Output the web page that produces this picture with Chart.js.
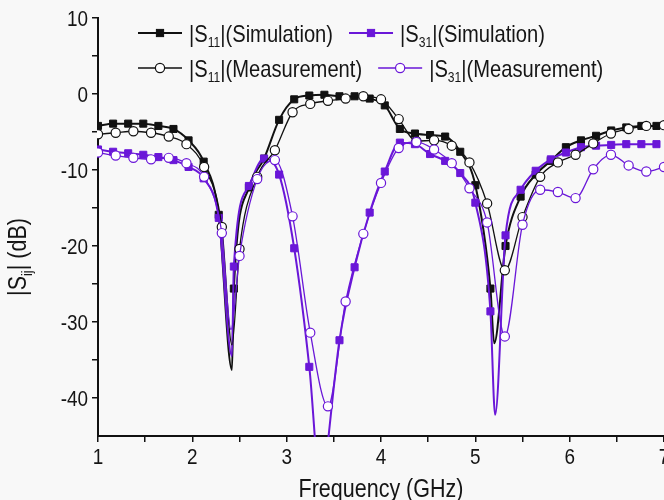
<!DOCTYPE html>
<html><head><meta charset="utf-8">
<script src="https://cdn.jsdelivr.net/npm/chart.js@4/dist/chart.umd.min.js"></script>
<style>html,body{margin:0;padding:0;background:#f8f8f8;overflow:hidden}</style>
</head><body>
<canvas id="c" width="664" height="500"></canvas>
<script>
// ---------- data ----------
const simFreq = [1.00,1.16,1.32,1.48,1.64,1.80,1.96,2.12,2.28,2.44,2.60,2.76,2.92,3.08,3.24,3.40,3.56,3.72,3.88,4.04,4.20,4.36,4.52,4.68,4.84,5.00,5.16,5.32,5.48,5.64,5.80,5.96,6.12,6.28,6.44,6.60,6.76,6.92];
const s11Sim = [-4.2,-3.9,-3.9,-3.9,-4.2,-4.6,-6.1,-8.9,-15.9,-25.6,-12.3,-8.5,-3.4,-0.7,-0.2,-0.1,-0.3,-0.3,-0.6,-1.5,-4.6,-5.2,-5.4,-5.6,-7.6,-12.0,-25.6,-20.0,-13.5,-10.6,-8.8,-7.0,-6.1,-5.5,-4.8,-4.4,-4.2,-4.2];
const s31Sim = [-7.3,-7.6,-7.8,-8.0,-8.3,-8.7,-9.6,-11.1,-16.3,-22.7,-12.1,-8.5,-10.6,-20.3,-35.9,-50.0,-32.4,-22.8,-15.6,-10.2,-6.4,-6.6,-7.9,-8.8,-10.4,-14.3,-28.6,-18.6,-12.6,-10.1,-8.6,-7.7,-7.0,-6.8,-6.7,-6.6,-6.6,-6.6];
const measFreq = [1.0,1.1875,1.375,1.5625,1.75,1.9375,2.125,2.3125,2.5,2.6875,2.875,3.0625,3.25,3.4375,3.625,3.8125,4.0,4.1875,4.375,4.5625,4.75,4.9375,5.125,5.3125,5.5,5.6875,5.875,6.0625,6.25,6.4375,6.625,6.8125,7.0];
const s11Meas = [-5.3,-5.1,-4.9,-5.1,-5.6,-6.6,-9.6,-17.5,-20.4,-10.9,-7.4,-2.4,-1.3,-0.9,-0.6,-0.3,-0.7,-3.3,-6.2,-6.1,-6.8,-9.0,-14.4,-23.2,-16.2,-10.9,-9.0,-8.0,-6.5,-5.2,-4.6,-4.2,-4.1];
const s31Meas = [-7.7,-8.1,-8.4,-8.6,-8.4,-9.1,-10.9,-18.3,-21.3,-11.2,-8.7,-16.1,-31.4,-41.1,-27.3,-18.4,-11.7,-7.1,-6.3,-7.3,-9.1,-12.4,-16.9,-31.9,-17.2,-12.6,-12.9,-13.7,-9.9,-8.0,-9.4,-10.2,-9.6];
// resonance minima drawn by the curves (no symbol there)
const s11SimDipFreq = [2.42, 5.20];
const s11SimDipVal  = [-36.3, -32.8];
const s31SimDipFreq = [2.42, 3.37, 5.21];
const s31SimDipVal  = [-34.5, -53.0, -42.2];
const s11MeasDipFreq = [2.42];
const s11MeasDipVal  = [-33.0];
const s31MeasDipFreq = [2.41];
const s31MeasDipVal  = [-31.0];
// ticks / labels
const xTickValues = [1,2,3,4,5,6,7];
const yTickValues = [10,0,-10,-20,-30,-40];
const seriesSub  = ['11','31','11','31'];
const seriesKind = ['(Simulation)','(Simulation)','(Measurement)','(Measurement)'];
const xTitle = 'Frequency (GHz)';
const yTitleMain = '|S', yTitleSub = 'ij', yTitleRest = '| (dB)';

// ---------- styling ----------
const BLACK = '#111111', PURPLE = '#6a17d8', BG = '#f8f8f8', TXT = '#151515';
const FAM = '"Liberation Sans", Arial, sans-serif';
const SZ = {tick: 22, leg: 24, title: 25};
const SXT = 0.86, SXL = 0.84; // horizontally condensed lettering like the reference

function build(fx, fy, dx, dy){
  const pts = fx.map((x,i)=>({x:x, y:fy[i], m:true}));
  dx.forEach((x,i)=>pts.push({x:x, y:dy[i], m:false}));
  pts.sort((a,b)=>a.x-b.x);
  return pts;
}

const series = [
  {data: build(simFreq, s11Sim, s11SimDipFreq, s11SimDipVal), color: BLACK, meas:false, order:3},
  {data: build(simFreq, s31Sim, s31SimDipFreq, s31SimDipVal), color: PURPLE, meas:false, order:2},
  {data: build(measFreq, s11Meas, s11MeasDipFreq, s11MeasDipVal), color: BLACK, meas:true, order:1},
  {data: build(measFreq, s31Meas, s31MeasDipFreq, s31MeasDipVal), color: PURPLE, meas:true, order:0},
];

const datasets = series.map((s,i)=>({
  label: '|S' + seriesSub[i] + '|' + seriesKind[i],
  data: s.data,
  order: s.order,
  borderColor: s.color,
  borderWidth: s.meas ? 1.3 : 2,
  cubicInterpolationMode: 'monotone',
  pointStyle: s.meas ? 'circle' : 'rect',
  pointRadius: ctx => (ctx.raw && ctx.raw.m) ? (s.meas ? 4.6 : 5) : 0,
  pointBackgroundColor: s.meas ? '#ffffff' : s.color,
  pointBorderColor: s.color,
  pointBorderWidth: s.meas ? 1.2 : 1,
  pointHoverRadius: 0,
  clip: 1,
}));

// condensed text; parts = [[text, isSub], ...]
function textWidth(c, parts, size, sx){
  let w = 0;
  for (const [t, sub] of parts){ c.font = (sub ? size*0.6 : size) + 'px ' + FAM; w += c.measureText(t).width; }
  return w * sx;
}
function richText(c, x, y, parts, size, sx){
  c.save();
  c.translate(x, y);
  c.scale(sx, 1);
  let cx = 0;
  for (const [t, sub] of parts){
    c.font = (sub ? size*0.6 : size) + 'px ' + FAM;
    c.fillText(t, cx, sub ? size*0.22 : 0);
    cx += c.measureText(t).width;
  }
  c.restore();
  return cx * sx;
}
function marker(c, x, y, meas, color){
  c.save();
  c.lineWidth = meas ? 1.2 : 1;
  c.strokeStyle = color;
  c.fillStyle = meas ? '#ffffff' : color;
  if (meas){ c.beginPath(); c.arc(x, y, 4.6, 0, Math.PI*2); c.fill(); c.stroke(); }
  else { const h = 3.6; c.fillRect(x-h, y-h, 2*h, 2*h); c.strokeRect(x-h, y-h, 2*h, 2*h); }
  c.restore();
}

const decor = {
  id: 'decor',
  beforeDraw(chart){
    const c = chart.ctx; c.save(); c.fillStyle = BG; c.fillRect(0,0,chart.width,chart.height); c.restore();
  },
  afterDraw(chart){
    const c = chart.ctx;
    const a = chart.chartArea;
    const xs = chart.scales.x, ys = chart.scales.y;
    c.save();
    c.fillStyle = TXT;
    c.textBaseline = 'alphabetic';
    c.textAlign = 'left';
    // tick labels
    const capT = SZ.tick * 0.716;
    xTickValues.forEach(v=>{
      const p = [[String(v),0]];
      const w = textWidth(c, p, SZ.tick, SXT);
      richText(c, xs.getPixelForValue(v) - w/2, a.bottom + 10 + capT + 2, p, SZ.tick, SXT);
    });
    yTickValues.forEach(v=>{
      const p = [[String(v),0]];
      const w = textWidth(c, p, SZ.tick, SXT);
      richText(c, a.left - 10 - w, ys.getPixelForValue(v) + capT/2, p, SZ.tick, SXT);
    });
    // legend: two rows, items flow left to right
    const rows = [[0,1],[2,3]], rowY = [33, 68];
    rows.forEach((r, ri)=>{
      let lx = 138; const ly = rowY[ri];
      r.forEach(i=>{
        const s = series[i];
        c.strokeStyle = s.color; c.lineWidth = s.meas ? 1.3 : 2;
        c.beginPath(); c.moveTo(lx, ly); c.lineTo(lx+44, ly); c.stroke();
        marker(c, lx+22, ly, s.meas, s.color);
        c.fillStyle = TXT;
        const w = richText(c, lx+51, ly + SZ.leg*0.36, [['|S',0],[seriesSub[i],1],['|'+seriesKind[i],0]], SZ.leg, SXL);
        lx = lx + 51 + w + 16;
      });
    });
    // x title
    const xp = [[xTitle,0]];
    const xw = textWidth(c, xp, SZ.title, SXT);
    richText(c, (a.left + a.right)/2 - xw/2, 497, xp, SZ.title, SXT);
    // y title
    c.translate(26, 257);
    c.rotate(-Math.PI/2);
    const yp = [[yTitleMain,0],[yTitleSub,1],[yTitleRest,0]];
    const yw = textWidth(c, yp, SZ.title, SXT);
    richText(c, -yw/2, 0, yp, SZ.title, SXT);
    c.restore();
  }
};

new Chart(document.getElementById('c'), {
  type: 'line',
  data: { datasets },
  options: {
    responsive: false,
    devicePixelRatio: 1,
    animation: false,
    events: [],
    layout: { autoPadding: false, padding: {top: 18, right: 0, bottom: 0, left: 0} },
    plugins: { legend: {display:false}, tooltip: {enabled:false} },
    scales: {
      x: {
        type: 'linear', min: 1, max: 7,
        afterFit: s => { s.height = 64; s.paddingLeft = 0; s.paddingRight = 0; },
        afterBuildTicks: s => { s.ticks = []; for (let v = 1; v <= 7.001; v += 0.5) s.ticks.push({value: v}); },
        ticks: { autoSkip: false, maxRotation: 0, callback: () => '' },
        grid: { drawOnChartArea: false, drawTicks: true, tickLength: 6, color: '#111', lineWidth: 1.5 },
        border: { display: true, color: '#111', width: 2 }
      },
      y: {
        type: 'linear', min: -45, max: 10,
        afterFit: s => { s.width = 98; s.paddingTop = 0; s.paddingBottom = 0; },
        afterBuildTicks: s => { s.ticks = []; for (let v = -45; v <= 10; v += 5) s.ticks.push({value: v}); },
        ticks: { autoSkip: false, callback: () => '' },
        grid: { drawOnChartArea: false, drawTicks: true, tickLength: 6, lineWidth: 1.5,
                tickColor: ctx => (ctx.tick && ctx.tick.value === -45) ? 'rgba(0,0,0,0)' : '#111' },
        border: { display: true, color: '#111', width: 2 }
      }
    }
  },
  plugins: [decor]
});
</script>
</body></html>
